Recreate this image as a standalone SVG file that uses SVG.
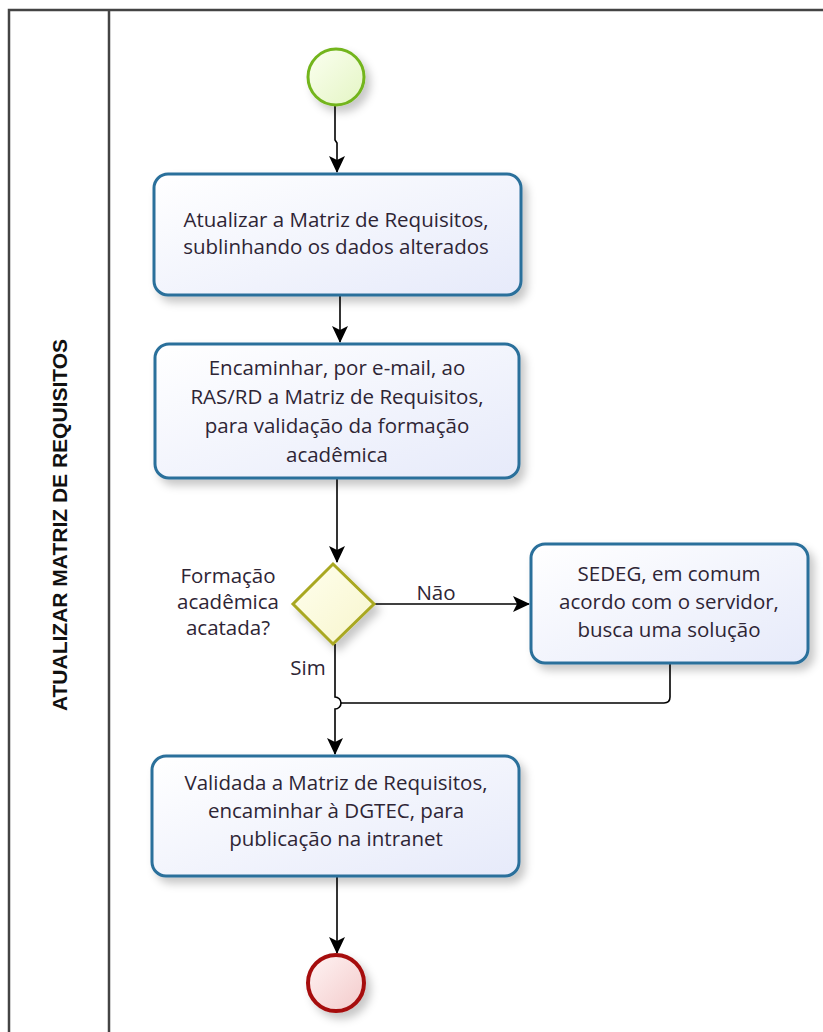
<svg xmlns="http://www.w3.org/2000/svg" width="823" height="1032" viewBox="0 0 823 1032">
<defs>
<linearGradient id="taskFill" x1="0" y1="0" x2="1" y2="1">
<stop offset="0" stop-color="#ffffff"/>
<stop offset="1" stop-color="#e6eafa"/>
</linearGradient>
<linearGradient id="startFill" x1="0" y1="0" x2="1" y2="1">
<stop offset="0" stop-color="#fbfff0"/>
<stop offset="1" stop-color="#e4f5c4"/>
</linearGradient>
<linearGradient id="endFill" x1="0" y1="0" x2="1" y2="1">
<stop offset="0" stop-color="#fff4f4"/>
<stop offset="1" stop-color="#f3caca"/>
</linearGradient>
<linearGradient id="gwFill" x1="0" y1="0" x2="1" y2="1">
<stop offset="0" stop-color="#ffffee"/>
<stop offset="1" stop-color="#f7f5cc"/>
</linearGradient>
<filter id="shadow" x="-20%" y="-20%" width="150%" height="150%">
<feDropShadow dx="5" dy="6" stdDeviation="4" flood-color="#000" flood-opacity="0.22"/>
</filter>
<marker id="arrow" markerWidth="18" markerHeight="18" refX="16" refY="9" orient="auto" markerUnits="userSpaceOnUse">
<path d="M0,1 L17,9 L0,17 L4,9 Z" fill="#000"/>
</marker>
</defs>
<style>
.pool{fill:#fff;stroke:#444;stroke-width:2.5}
.task{fill:url(#taskFill);stroke:#2b6f9b;stroke-width:3;filter:url(#shadow)}
.txt{font-family:"Open Sans","Noto Sans",sans-serif;font-size:20.5px;fill:#2e2535;text-anchor:middle}
.lbl{font-family:"Open Sans","Noto Sans",sans-serif;font-size:20.5px;fill:#2e2535;text-anchor:middle}
.conn{fill:none;stroke:#000;stroke-width:1.6}
.lane{font-family:"Liberation Sans",Arial,sans-serif;font-size:21px;font-weight:bold;fill:#111;text-anchor:middle}
</style>
<rect width="823" height="1032" fill="#fff"/>
<g id="pool">
<rect class="pool" x="9" y="10" width="830" height="1040"/>
<line x1="109" y1="10" x2="109" y2="1040" stroke="#444" stroke-width="2.5"/>
<text class="lane" transform="translate(67,525) rotate(-90)">ATUALIZAR MATRIZ DE REQUISITOS</text>
</g>
<g id="connectors">
<path class="conn" d="M335,106 V140 L337,143 V172" marker-end="url(#arrow)"/>
<path class="conn" d="M340,295 V342" marker-end="url(#arrow)"/>
<path class="conn" d="M337,478 V562" marker-end="url(#arrow)"/>
<path class="conn" d="M374,604 H529" marker-end="url(#arrow)"/>
<text class="lbl" x="436" y="600">Não</text>
<path class="conn" d="M335,644 V697 A6,6 0 0 1 335,709 V754" marker-end="url(#arrow)"/>
<text class="lbl" x="308" y="675">Sim</text>
<path class="conn" d="M670,663 V697 Q670,703 664,703 H341"/>
<path class="conn" d="M337,876 V953" marker-end="url(#arrow)"/>
</g>
<g id="start">
<circle cx="336" cy="77" r="28" fill="url(#startFill)" stroke="#73b51e" stroke-width="3" filter="url(#shadow)"/>
</g>
<g id="task1">
<rect class="task" x="154" y="174" width="367" height="121" rx="14"/>
<text class="txt" x="336" y="227">Atualizar a Matriz de Requisitos,</text>
<text class="txt" x="336" y="254">sublinhando os dados alterados</text>
</g>
<g id="task2">
<rect class="task" x="155" y="344" width="364" height="134" rx="14"/>
<text class="txt" x="337" y="375">Encaminhar, por e-mail, ao</text>
<text class="txt" x="337" y="404">RAS/RD a Matriz de Requisitos,</text>
<text class="txt" x="337" y="433">para validação da formação</text>
<text class="txt" x="337" y="462">acadêmica</text>
</g>
<g id="gateway">
<polygon points="333,564 374,604 333,644 293,604" fill="url(#gwFill)" stroke="#a9a820" stroke-width="3" filter="url(#shadow)"/>
<text class="lbl" x="228" y="583">Formação</text>
<text class="lbl" x="228" y="609">acadêmica</text>
<text class="lbl" x="228" y="635">acatada?</text>
</g>
<g id="task3">
<rect class="task" x="531" y="544" width="277" height="119" rx="14"/>
<text class="txt" x="669" y="581">SEDEG, em comum</text>
<text class="txt" x="669" y="609">acordo com o servidor,</text>
<text class="txt" x="669" y="637">busca uma solução</text>
</g>
<g id="task4">
<rect class="task" x="152" y="756" width="367" height="120" rx="14"/>
<text class="txt" x="336" y="790">Validada a Matriz de Requisitos,</text>
<text class="txt" x="336" y="818">encaminhar à DGTEC, para</text>
<text class="txt" x="336" y="846">publicação na intranet</text>
</g>
<g id="end">
<circle cx="336" cy="983" r="28" fill="url(#endFill)" stroke="#a60f0f" stroke-width="4" filter="url(#shadow)"/>
</g>
</svg>
